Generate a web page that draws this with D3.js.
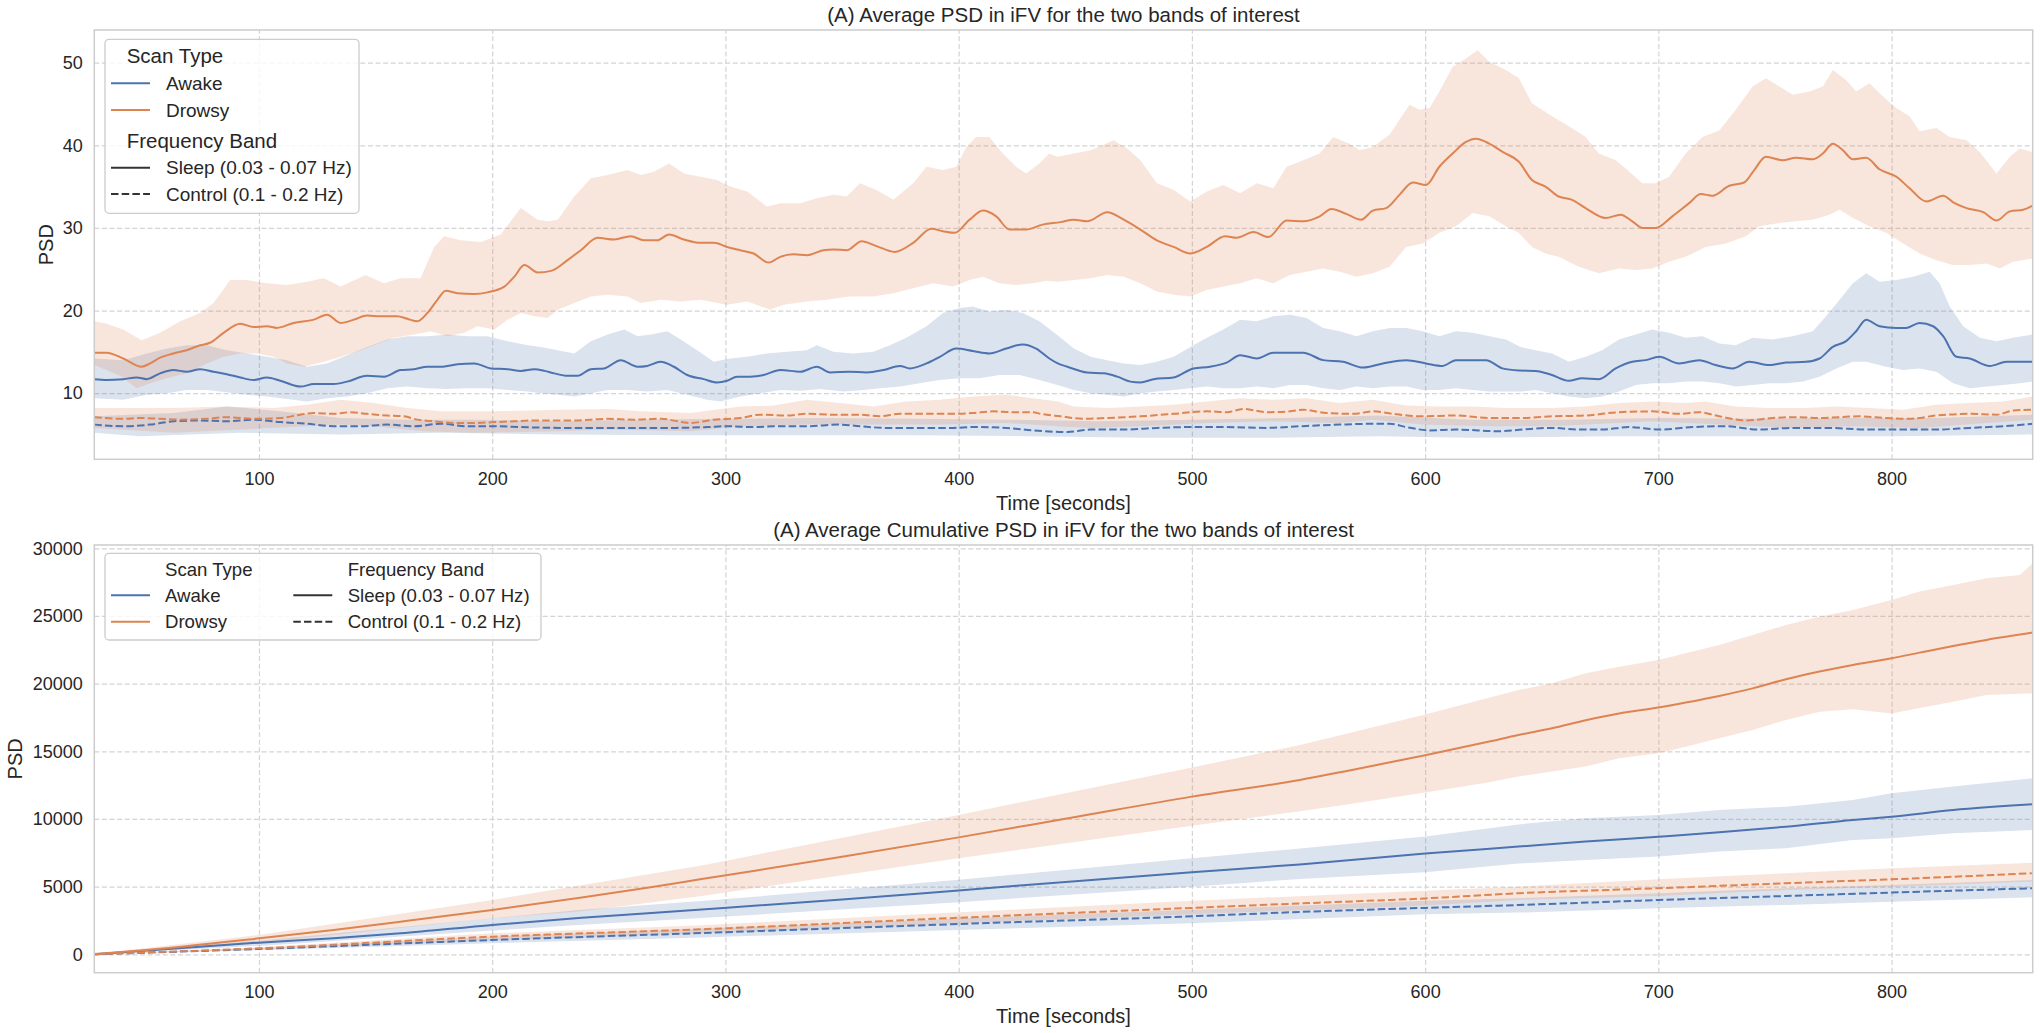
<!DOCTYPE html>
<html><head><meta charset="utf-8">
<script src="https://cdn.jsdelivr.net/npm/d3@7"></script>
<style>
html,body{margin:0;padding:0;background:#fff;}
text{font-family:"Liberation Sans",Arial,Helvetica,sans-serif;fill:#262626;}
</style></head>
<body><svg id="chart" width="2040" height="1033"></svg>
<script>
// ---------------- DATA ----------------
const xTicks = [100,200,300,400,500,600,700,800];
const topYTicks = [10,20,30,40,50];
const botYTicks = [0,5000,10000,15000,20000,25000,30000];
const scanTypes = ["Awake","Drowsy"];
const bands = ["Sleep (0.03 - 0.07 Hz)","Control (0.1 - 0.2 Hz)"];
const titleTop = "(A) Average PSD in iFV for the two bands of interest";
const titleBot = "(A) Average Cumulative PSD in iFV for the two bands of interest";

// Top panel: [time, PSD]
const drowsySleepMean = [[29.4,14.9],[34.7,14.9],[41.8,14.2],[49.7,13.2],[53.3,13.6],[57.6,14.3],[63.3,14.8],[69,15.2],[74.8,15.8],[79,16.1],[84.8,17.3],[92,18.4],[97.7,18.0],[103.4,18.1],[107.7,17.9],[114.9,18.5],[123.5,18.9],[129.2,19.5],[135,18.5],[140.7,18.9],[146.4,19.4],[152.1,19.3],[159.3,19.3],[163.6,19.0],[167.9,18.7],[172.2,19.7],[176.5,21.3],[180.1,22.4],[185.1,22.1],[192.3,22.0],[198,22.2],[205.2,22.9],[209.5,24.1],[213.8,25.5],[219.5,24.6],[225.2,24.8],[232.3,26.1],[238,27.3],[245.2,28.8],[252.3,28.6],[259.4,29.0],[265.1,28.5],[270.8,28.5],[275.8,29.2],[282.2,28.6],[289.3,28.2],[295,28.2],[300.7,27.7],[306.4,27.3],[312.1,26.9],[318.5,25.8],[323.5,26.5],[329.2,26.8],[334.9,26.7],[342,27.3],[346.3,27.4],[352,27.3],[358.4,28.4],[364.8,27.8],[372.6,27.1],[380.5,28.2],[388.3,29.9],[393.3,29.6],[398.3,29.4],[404.7,31.0],[410.4,32.1],[416.1,31.4],[421.8,29.8],[428.9,29.8],[436,30.4],[443.7,30.7],[449.4,31.0],[455.1,30.8],[463.7,31.9],[470.8,31.0],[477.9,29.8],[485,28.5],[492.2,27.7],[499.3,26.9],[506.4,27.7],[514.2,29.0],[519.2,28.8],[526.4,29.5],[532.8,28.9],[540.6,30.9],[547.7,30.8],[554.8,31.4],[559.8,32.3],[566.2,31.7],[572.6,31.0],[577.6,32.1],[583.3,32.4],[589,34.0],[594.7,35.5],[600.4,35.2],[606.1,37.4],[611.8,39.0],[617.5,40.4],[621.8,40.8],[627.5,40.2],[633.2,39.2],[640.2,38.0],[645.8,35.8],[651.6,35.0],[657.3,33.8],[663,33.4],[668.8,32.4],[677.4,31.2],[683.8,31.6],[688.8,30.8],[693.1,30.0],[698.9,30.0],[706,31.4],[713.2,33.0],[718.2,34.1],[723.2,33.9],[730.4,35.1],[736.8,35.5],[741.1,37.0],[746.1,38.6],[753.3,38.2],[759,38.5],[766.2,38.3],[770.5,39.0],[774.8,40.2],[779.1,39.4],[783.4,38.3],[789.1,38.5],[794.8,37.1],[802,36.2],[807.7,34.8],[814.9,33.2],[822.1,33.9],[826.4,33.1],[832.1,32.4],[839.3,31.9],[845,30.9],[850.7,32.0],[856.4,32.2],[860.5,32.7]];
const drowsySleepHi = [[29.4,18.7],[34.7,18.4],[41.8,17.7],[49.7,16.4],[57.6,17.3],[66.2,18.7],[74.8,19.7],[80.5,20.9],[87.7,23.7],[94.8,23.7],[103.4,23.3],[112,23.1],[120.6,23.5],[127.8,23.9],[135,22.9],[145.7,24.3],[153.6,23.3],[160.7,23.9],[169.3,23.9],[175.1,27.7],[179.4,29.0],[186.6,28.5],[195.1,28.3],[203.7,29.2],[209.5,31.4],[212.3,32.4],[219.5,31.0],[224,30.8],[228.1,31.0],[235.2,33.8],[242.3,36.0],[249.5,36.4],[258,37.0],[263.7,36.4],[269.4,36.8],[275.8,37.8],[282.2,36.6],[289.3,36.2],[296.4,35.8],[302.1,35.0],[309.3,34.4],[317.8,32.6],[323.5,33.0],[332.1,33.0],[339.2,33.6],[346.3,34.0],[352,33.8],[357.7,35.4],[364.8,34.6],[372,33.4],[380.5,35.4],[386.2,37.4],[393.3,37.0],[399,37.4],[403.3,39.8],[407.5,41.0],[413.2,41.0],[418.9,39.0],[424.6,37.4],[428.9,36.6],[434.6,37.8],[438.9,39.0],[442.3,38.6],[449.4,39.0],[456.6,39.4],[466.5,40.6],[472.2,39.6],[477.9,38.2],[485,35.4],[492.2,34.6],[499.3,33.2],[506.4,34.4],[513.5,35.2],[520.7,34.2],[527.8,35.4],[534.9,34.8],[540.6,37.4],[547.7,38.2],[554.8,39.0],[560.5,41.0],[567.7,40.2],[571.9,39.4],[577.6,39.8],[584.8,41.3],[589,43.1],[593.3,44.9],[597.6,44.3],[601.9,44.5],[606.1,46.5],[611.8,49.5],[617.5,50.5],[622.5,51.5],[627.5,50.1],[634.6,49.1],[640.2,48.1],[645.8,45.1],[654.4,43.5],[661.6,42.3],[668.8,41.0],[674.5,39.0],[681.7,38.2],[686,37.2],[693.1,35.4],[698.9,35.4],[704.6,36.2],[711.7,39.0],[718.9,41.0],[726.1,41.8],[733.2,44.3],[740.4,47.1],[746.1,48.1],[751.9,47.1],[757.6,46.1],[764.8,46.5],[770.5,47.1],[774.8,49.1],[780.5,47.9],[784.8,46.5],[790.5,47.5],[796.3,45.9],[802,44.5],[807.7,43.5],[812,41.7],[819.2,42.1],[824.9,41.0],[832.1,40.6],[837.8,39.2],[845,36.6],[850.7,38.6],[855,39.6],[860.5,39.2]];
const drowsySleepLo = [[29.4,13.4],[34.7,12.8],[41.3,12.0],[47.5,10.6],[53.3,11.2],[60.5,11.8],[69,12.4],[77.7,13.6],[84.8,14.4],[92,14.8],[99.1,14.8],[106.3,14.4],[112,13.6],[119.2,13.2],[127.8,13.8],[135,14.4],[142.1,15.0],[149.3,15.8],[157.9,16.7],[166.5,17.1],[173.6,17.5],[180.8,16.9],[188,17.3],[193.7,18.1],[200.9,17.7],[206.6,18.9],[212.3,19.7],[218.1,19.3],[223.8,19.1],[228.1,20.1],[235.2,20.9],[242.3,21.7],[249.5,21.9],[258,21.7],[263.7,20.9],[272.2,21.3],[280.8,21.1],[289.3,21.3],[300.7,20.7],[309.3,21.1],[319.2,20.1],[324.9,20.7],[334.9,21.1],[343.4,21.3],[353.4,21.7],[363.4,21.7],[372,22.1],[380.5,22.7],[389,23.3],[397.6,22.9],[404.7,23.7],[410.4,24.1],[417.5,23.3],[424.6,23.1],[431.8,23.3],[437.5,23.6],[442.4,23.5],[449.4,23.7],[456.6,23.9],[463.7,24.3],[470.8,24.1],[477.9,23.3],[485,22.3],[492.2,21.9],[499.3,21.7],[506.4,22.5],[513.5,22.9],[520.7,23.3],[527.8,23.9],[534.9,23.3],[542,24.3],[549.1,24.7],[556.3,25.1],[563.4,24.7],[570.5,24.1],[577.6,24.5],[584.8,25.3],[591.9,27.7],[599,28.1],[606.1,29.4],[613.2,30.2],[620.4,31.8],[627.5,31.4],[634.6,30.2],[640.1,29.4],[645.8,27.7],[651.6,26.9],[657.3,26.5],[665.9,25.3],[674.5,24.5],[683.1,25.1],[690.3,24.9],[697.4,25.1],[704.6,25.9],[711.7,26.5],[720.3,27.7],[728.9,28.1],[737.5,29.0],[743.3,30.2],[751.9,30.6],[759,30.8],[766.2,31.0],[773.4,31.6],[777.7,32.2],[783.4,31.2],[790.5,30.2],[797.7,29.4],[804.9,28.1],[812,26.9],[819.2,26.1],[826.4,25.5],[833.5,25.5],[840.7,25.7],[846.4,25.1],[852.1,25.9],[860.5,26.3]];

const awakeSleepMean = [[29.4,11.7],[34.7,11.6],[41.8,11.7],[47.6,11.9],[51.9,11.7],[57.6,12.4],[63.3,12.8],[69,12.6],[74.8,12.9],[80.5,12.6],[86.2,12.3],[92,11.9],[97.7,11.6],[103.4,11.9],[109.2,11.5],[117.8,10.8],[123.5,11.1],[132.1,11.1],[137.8,11.4],[146.4,12.1],[153.6,12.0],[160.7,12.8],[166.5,12.9],[172.2,13.2],[177.9,13.2],[185.1,13.5],[192.3,13.6],[199.4,13.0],[206.6,12.9],[212.3,12.7],[218.1,12.9],[222.5,12.7],[226.6,12.4],[232.3,12.1],[236.6,12.1],[242.3,12.9],[248,13.0],[255.1,14.0],[262.3,13.2],[266.5,13.3],[272.2,13.8],[277.9,13.2],[283.6,12.2],[290.7,11.7],[296.4,11.3],[300.7,11.5],[305,12.0],[310.7,12.0],[316.4,12.2],[323.5,12.8],[332.1,12.6],[339.2,13.2],[344.9,12.5],[353.4,12.6],[360.5,12.5],[367.7,12.8],[374.8,13.3],[379.1,13.0],[386.2,13.6],[391.9,14.4],[399,15.4],[406.1,15.1],[413.2,14.8],[420.4,15.4],[427.5,15.9],[433.2,15.4],[438.9,14.2],[442.5,13.6],[446.6,13.2],[455.1,12.5],[462.3,12.4],[468,12.0],[473.7,11.4],[477.9,11.3],[483.6,11.7],[492.2,11.9],[500.7,13.0],[507.8,13.2],[514.9,13.7],[520.7,14.6],[527.8,14.2],[534.9,14.9],[542,14.9],[547.7,14.9],[556.3,14.0],[564.8,13.8],[573.4,13.1],[581.9,13.6],[591.9,14.0],[600.4,13.6],[607.5,13.3],[613.2,14.0],[620.4,14.0],[626.1,14.0],[633.2,13.0],[640.2,12.75],[647.3,12.7],[654.4,12.2],[661.6,11.5],[667.3,11.8],[674.5,11.7],[681.7,13.0],[688.8,13.8],[694.6,14.0],[700.3,14.4],[708.9,13.6],[717.5,14.0],[724.6,13.4],[731.8,13.0],[739,13.8],[747.6,13.4],[754.7,13.7],[763.3,13.8],[769.1,14.2],[774.8,15.6],[780.5,16.3],[784.8,17.5],[789.1,18.9],[794.8,18.1],[802,17.9],[806.3,17.9],[812,18.5],[817.8,18.1],[822.1,16.9],[827.8,14.4],[833.5,14.2],[842.1,13.3],[849.3,13.8],[860.5,13.8]];
const awakeSleepHi = [[29.4,14.2],[41.8,14.0],[51.9,14.8],[60.5,15.4],[69,15.8],[77.7,15.8],[86.2,15.2],[94.8,14.8],[103.4,14.4],[112,14.0],[120.6,13.2],[129.2,13.6],[137.8,14.6],[146.4,15.6],[155,16.5],[163.6,16.9],[172.2,16.9],[180.8,17.1],[189.4,16.9],[198,16.9],[206.6,16.3],[215.2,15.8],[221,15.6],[228.1,15.2],[235.2,14.8],[242.3,16.3],[249.5,17.1],[256.6,17.7],[262.3,16.9],[268,17.1],[275.1,17.5],[280.8,16.5],[287.9,15.2],[295,13.8],[302.1,14.2],[309.3,14.4],[317.8,14.8],[326.4,15.0],[334.9,15.2],[339.2,15.8],[346.3,15.0],[354.8,14.8],[363.4,15.0],[370.5,15.8],[377.6,16.7],[386.2,18.1],[393.3,19.7],[400.4,20.3],[406.1,20.5],[413.2,19.9],[420.4,20.1],[427.5,19.7],[434.6,18.7],[442.4,17.0],[449.4,15.4],[456.6,14.4],[463.7,14.0],[470.8,13.6],[477.9,13.4],[485,13.8],[492.2,14.4],[499.3,15.6],[506.4,16.7],[513.5,17.7],[520.7,18.9],[527.8,18.7],[534.9,19.3],[542,19.5],[549.1,19.1],[556.3,17.9],[563.4,17.5],[570.5,16.9],[577.6,17.5],[584.8,17.9],[591.9,17.9],[599,17.5],[606.1,16.9],[613.2,17.5],[620.4,17.3],[627.5,16.9],[634.6,16.5],[640.9,15.6],[647.3,15.2],[654.4,14.8],[661.6,13.8],[668.8,14.4],[675.9,15.2],[683.1,16.5],[690.3,17.1],[697.4,17.7],[704.6,17.3],[711.7,16.7],[718.9,16.9],[726.1,16.0],[733.2,15.8],[740.4,16.7],[749,16.5],[757.6,16.9],[766.2,17.5],[771.9,19.3],[777.7,21.3],[783.4,23.3],[789.1,24.5],[794.8,23.5],[802,23.7],[809.2,24.1],[816.3,24.7],[820.6,23.3],[824.9,20.5],[830.7,18.1],[837.8,16.7],[845,16.3],[852.1,16.7],[860.5,17.1]];
const awakeSleepLo = [[29.4,9.4],[41.8,9.2],[51.9,9.8],[60.5,10.0],[69,10.4],[77.7,10.4],[86.2,10.1],[94.8,9.8],[103.4,9.6],[112,9.3],[120.6,9.0],[129.2,9.4],[137.8,9.6],[146.4,10.0],[155,10.6],[163.6,10.8],[172.2,10.6],[180.8,10.5],[189.4,10.6],[198,10.6],[206.6,10.4],[215.2,10.2],[221,10.0],[228.1,9.8],[235.2,9.6],[242.3,10.0],[249.5,10.4],[258,10.4],[266.5,10.2],[275.1,10.4],[283.6,9.8],[292.2,9.2],[297.9,9.0],[306.4,9.6],[315,10.0],[323.5,10.4],[332.1,10.3],[340.6,10.5],[350.6,10.2],[359.1,10.4],[366.2,10.6],[374.8,10.8],[383.3,11.2],[391.9,11.6],[400.4,11.8],[408.9,11.8],[417.5,12.2],[426.1,12.2],[434.6,11.6],[442.4,11.0],[449.4,10.4],[456.6,10.0],[463.7,9.8],[470.8,9.6],[477.9,10.0],[485,10.2],[492.2,10.4],[499.3,10.6],[506.4,10.8],[513.5,10.6],[520.7,10.6],[527.8,10.8],[534.9,10.6],[542,11.0],[549.1,11.0],[556.3,10.6],[563.4,10.4],[570.5,10.8],[577.6,10.6],[584.8,10.8],[591.9,10.8],[599,10.4],[606.1,10.4],[613.2,10.6],[620.4,10.4],[627.5,10.2],[634.6,10.2],[641.7,10.2],[647.3,10.4],[654.4,10.0],[661.6,9.6],[668.8,9.4],[675.9,9.6],[683.1,10.2],[690.3,11.0],[697.4,11.2],[704.6,11.2],[711.7,11.4],[718.9,11.4],[726.1,11.2],[733.2,10.8],[740.4,11.0],[747.6,11.2],[754.7,11.2],[762,11.4],[769.1,12.0],[776.3,13.0],[783.4,13.8],[789.1,13.8],[797.7,13.2],[804.9,12.8],[812,13.0],[819.2,12.6],[826.4,11.2],[833.5,10.6],[840.7,10.8],[847.9,11.0],[855,11.2],[860.5,11.4]];

const drowsyCtrlMean = [[29.4,7.1],[41.8,6.9],[49,7.0],[57.6,6.9],[66.2,6.8],[77.7,6.9],[86.2,7.1],[97.7,6.9],[109.2,7.0],[117.8,7.4],[123.5,7.6],[132.1,7.5],[139.3,7.7],[146.4,7.5],[155,7.3],[162.2,7.2],[167.9,6.8],[175.1,6.6],[183.7,6.4],[192.3,6.4],[200.9,6.5],[209.5,6.6],[218.1,6.7],[228.8,6.7],[235.2,6.7],[249.5,6.9],[260.8,6.8],[272.2,6.9],[285,6.4],[295,6.8],[306.4,7.0],[315,7.4],[326.4,7.3],[334.9,7.5],[346.3,7.4],[357.7,7.4],[366.2,7.2],[374.8,7.5],[386.2,7.5],[397.6,7.5],[406.1,7.6],[414.7,7.8],[423.2,7.7],[431.8,7.7],[435.2,7.5],[443.7,7.2],[453.7,6.9],[463.7,7.0],[477.9,7.2],[492.2,7.5],[506.4,7.8],[515,7.7],[522.1,8.1],[532,7.7],[542,7.8],[547.7,8.0],[557.7,7.6],[569.1,7.5],[577.6,7.8],[586.2,7.5],[599,7.2],[613.2,7.3],[627.5,7.0],[641.7,7.0],[654.4,7.2],[668.8,7.3],[683.1,7.7],[697.4,7.8],[708.9,7.5],[717.5,7.7],[726.1,7.2],[737.5,6.7],[749,7.0],[757.6,7.1],[769.1,7.0],[786.2,7.2],[797.7,7.0],[807.7,6.9],[819.2,7.3],[833.5,7.5],[845,7.4],[852.1,7.9],[860.5,8.0]];
const drowsyCtrlHi = [[29.4,8.2],[63.3,8.2],[86.2,8.4],[106.3,8.2],[120.6,8.6],[135,9.2],[149.3,8.8],[163.6,8.2],[177.9,7.8],[199.4,7.8],[228.8,8.0],[249.5,8.1],[263.7,7.8],[285,7.6],[306.4,8.4],[320.7,8.5],[334.9,9.2],[349.1,8.8],[363.4,8.4],[377.6,9.0],[391.9,9.2],[406.1,9.6],[420.4,9.8],[442.5,9.0],[449.4,8.4],[463.7,8.2],[477.9,8.4],[492.2,8.6],[506.4,9.0],[520.7,9.4],[534.9,9.2],[549.1,9.4],[563.4,8.8],[577.6,9.2],[591.9,8.5],[606.1,8.4],[620.4,8.4],[634.6,8.2],[654.4,8.2],[668.8,8.4],[683.1,8.8],[697.4,9.0],[711.7,8.8],[720.3,9.0],[733.2,8.4],[747.6,8.2],[762,8.2],[776.3,8.4],[790.5,8.2],[804.9,8.0],[819.2,8.6],[833.5,8.8],[847.9,9.0],[860.5,9.6]];
const drowsyCtrlLo = [[29.4,5.8],[63.3,5.2],[92,5.6],[120.6,6.0],[135,6.2],[149.3,6.0],[170.7,5.4],[192.3,5.2],[228.8,5.4],[249.5,5.6],[285,5.4],[306.4,6.0],[334.9,6.2],[363.4,6.2],[391.9,6.2],[420.4,6.4],[442.5,6.0],[456.6,5.8],[477.9,6.0],[506.4,6.4],[534.9,6.6],[563.4,6.4],[577.6,6.8],[599,6.2],[627.5,6.0],[654.4,6.0],[668.8,6.2],[697.4,6.6],[726.1,6.2],[754.7,5.8],[783.4,6.0],[812,5.8],[840.7,6.4],[860.5,6.8]];

const awakeCtrlMean = [[29.4,6.2],[41.8,6.0],[53.3,6.2],[63.3,6.6],[74.8,6.7],[86.2,6.6],[97.7,6.8],[109.2,6.5],[120.6,6.3],[132.1,6.0],[143.6,6.0],[155,6.2],[166.5,6.0],[177.9,6.3],[189.4,6.0],[200.9,6.0],[212.3,5.9],[228.8,5.8],[249.5,5.8],[263.7,5.8],[277.9,5.8],[292.2,5.9],[300.7,6.0],[312.1,5.9],[320.7,6.0],[334.9,6.0],[349.1,6.2],[357.7,6.0],[369.1,5.8],[383.3,5.8],[397.6,5.8],[406.1,5.9],[420.4,5.8],[431.8,5.5],[446.6,5.3],[456.6,5.6],[470.8,5.6],[485,5.8],[499.3,5.9],[513.5,5.9],[532,5.8],[546.3,6.0],[563.4,6.2],[577.6,6.3],[584.8,6.3],[591.9,5.9],[601.9,5.5],[613.2,5.6],[631.7,5.4],[641.7,5.6],[654.4,5.8],[665.9,5.6],[675.9,5.6],[687.4,5.9],[700.3,5.6],[714.6,5.9],[728.9,6.0],[743.3,5.6],[757.6,5.8],[771.9,5.8],[790.5,5.6],[804.9,5.6],[819.2,5.6],[833.5,5.8],[847.9,6.0],[860.5,6.3]];
const awakeCtrlHi = [[29.4,7.2],[63.3,7.6],[86.2,8.4],[109.2,7.8],[135,7.0],[163.6,6.8],[192.3,6.8],[228.8,6.6],[260,6.8],[300,6.9],[340,7.0],[380,6.9],[420,6.8],[460,6.6],[500,6.8],[540,7.0],[580,7.3],[620,6.8],[660,6.8],[700,7.0],[740,6.9],[780,7.0],[820,7.0],[860.5,7.4]];
const awakeCtrlLo = [[29.4,5.2],[49,4.8],[92,5.2],[135,5.0],[177.9,5.2],[228.8,5.0],[280,4.9],[330,4.9],[380,4.9],[430,4.8],[480,4.6],[530,4.6],[580,4.8],[620,4.6],[680,4.8],[740,4.8],[800,4.8],[860.5,5.0]];

// Bottom panel (cumulative): [time, PSD]
const cumDrowsySleepMean = [[29.5,15],[65.6,540],[100,1180],[132,1800],[160.7,2410],[200,3275],[238.4,4190],[267.2,4940],[289.8,5560],[350,7200],[400,8640],[450,10150],[500,11650],[546.3,12880],[566.5,13550],[600,14710],[627,15700],[640,16200],[654.4,16700],[668.8,17300],[683.1,17800],[700,18230],[711.7,18600],[726.1,19090],[740.4,19650],[754.7,20320],[769.1,20890],[783.4,21380],[800,21870],[812,22290],[826.4,22780],[840.7,23230],[860.5,23770]];
const cumDrowsySleepHi = [[29.5,20],[100,1430],[200,4015],[289.8,6570],[400,10300],[500,13800],[546.3,15460],[600,17720],[640,19530],[654.4,20020],[668.8,20760],[683.1,21250],[700,21750],[711.7,22240],[726.1,22860],[740.4,23600],[754.7,24330],[769.1,24950],[783.4,25440],[800,26180],[812,26800],[826.4,27290],[840.7,27780],[855,28030],[860.5,28890]];
const cumDrowsySleepLo = [[29.5,10],[100,860],[200,2660],[238.4,3180],[289.8,4310],[400,7100],[500,9500],[546.3,10570],[566.5,11070],[600,11950],[627,12700],[640,13130],[654.4,13500],[668.8,13870],[683.1,14480],[700,14850],[711.7,15340],[726.1,15960],[740.4,16580],[754.7,17310],[769.1,17930],[783.4,18100],[800,17800],[812,18200],[826.4,18670],[840.7,19160],[860.5,19290]];
const cumAwakeSleepMean = [[29.5,12],[100,860],[132,1180],[160.7,1550],[200,2170],[238.4,2700],[289.8,3310],[350,4050],[400,4720],[450,5400],[500,6070],[546.3,6640],[600,7440],[640,7960],[668.8,8330],[700,8690],[726.1,9010],[754.7,9430],[783.4,9930],[800,10170],[826.4,10660],[860.5,11080]];
const cumAwakeSleepHi = [[29.5,14],[100,1010],[200,2660],[238.4,3300],[289.8,3930],[400,5500],[500,7100],[546.3,7820],[600,8700],[640,9600],[668.8,10050],[700,10300],[726.1,10660],[754.7,10910],[783.4,11400],[800,11900],[826.4,12390],[860.5,13000]];
const cumAwakeSleepLo = [[29.5,10],[100,616],[200,1750],[238.4,2180],[289.8,2680],[400,3850],[500,5000],[546.3,5570],[600,6060],[640,6700],[668.8,6970],[700,7220],[726.1,7590],[754.7,7830],[783.4,8450],[800,8570],[826.4,8940],[860.5,9190]];
const cumDrowsyCtrlMean = [[29.5,7],[100,443],[200,1305],[289.8,1850],[400,2700],[500,3430],[546.3,3760],[600,4130],[640,4510],[700,4880],[754.7,5250],[800,5540],[860.5,5990]];
const cumDrowsyCtrlHi = [[29.5,9],[100,520],[200,1550],[290,2150],[400,3100],[500,3950],[600,4700],[640,5000],[700,5540],[754.7,5990],[800,6350],[860.5,6770]];
const cumDrowsyCtrlLo = [[29.5,5],[100,370],[200,1010],[290,1550],[400,2300],[500,2950],[600,3600],[640,4010],[700,4310],[754.7,4750],[800,5000],[860.5,5370]];
const cumAwakeCtrlMean = [[29.5,6],[100,394],[200,1059],[289.8,1570],[400,2240],[500,2810],[546.3,3130],[600,3430],[640,3640],[700,4010],[754.7,4310],[800,4560],[860.5,4880]];
const cumAwakeCtrlHi = [[29.5,7],[100,470],[200,1305],[290,1900],[400,2650],[500,3300],[600,3950],[640,4140],[700,4510],[754.7,4880],[800,5120],[860.5,5490]];
const cumAwakeCtrlLo = [[29.5,5],[100,300],[200,813],[290,1250],[400,1800],[500,2300],[600,2950],[640,3080],[700,3400],[754.7,3650],[800,3890],[860.5,4210]];

// --------------- RENDER ---------------
const colors = {Awake:"#4c72b0", Drowsy:"#dd8452"};
const svg = d3.select("#chart");
const X0 = 94.3, X1 = 2032.7;
const x = d3.scaleLinear().domain([29.4, 860.5]).range([X0, X1]);
const yTop = d3.scaleLinear().domain([2.0, 53.95]).range([459.3, 30]);
const yBot = d3.scaleLinear().domain([-1360, 30244]).range([972.7, 545]);

function panel(y, yTicks, series, clipId, title, titleY, xlabY){
  const [yb, yt] = y.range();
  const g = svg.append("g");
  g.append("clipPath").attr("id", clipId).append("rect")
    .attr("x", X0).attr("y", yt).attr("width", X1-X0).attr("height", yb-yt);
  // grid
  const gridStyle = s => s.attr("stroke","#d4d4d4").attr("stroke-width",1.2).attr("stroke-dasharray","5,2.6");
  g.append("g").attr("transform",`translate(0,${yb})`)
    .call(d3.axisBottom(x).tickValues(xTicks).tickSize(-(yb-yt)).tickFormat(""))
    .call(a=>a.select(".domain").remove())
    .call(a=>gridStyle(a.selectAll("line")));
  g.append("g").attr("transform",`translate(${X0},0)`)
    .call(d3.axisLeft(y).tickValues(yTicks).tickSize(-(X1-X0)).tickFormat(""))
    .call(a=>a.select(".domain").remove())
    .call(a=>gridStyle(a.selectAll("line")));
  // bands
  const lineGen = d3.line().x(d=>x(d[0])).y(d=>y(d[1]));
  const data = g.append("g").attr("clip-path",`url(#${clipId})`);
  series.forEach(s=>{
    const poly = s.hi.concat(s.lo.slice().reverse());
    data.append("path").attr("d", lineGen(poly)+"Z")
      .attr("fill", colors[s.type]).attr("fill-opacity",0.2).attr("stroke","none");
  });
  const smooth = d3.line().x(d=>x(d[0])).y(d=>y(d[1])).curve(d3.curveMonotoneX);
  series.forEach(s=>{
    data.append("path").attr("d", smooth(s.mean)).attr("fill","none")
      .attr("stroke", colors[s.type]).attr("stroke-width",2)
      .attr("stroke-dasharray", s.band===bands[1] ? "7.5,3.2" : null);
  });
  // frame
  g.append("rect").attr("x",X0).attr("y",yt).attr("width",X1-X0).attr("height",yb-yt)
    .attr("fill","none").attr("stroke","#cccccc").attr("stroke-width",1.5);
  // tick labels
  const ax = g.append("g").attr("transform",`translate(0,${yb})`)
    .call(d3.axisBottom(x).tickValues(xTicks).tickSize(0).tickPadding(13).tickFormat(d3.format("d")));
  ax.select(".domain").remove();
  ax.selectAll("text").attr("font-size",18).attr("fill","#262626").attr("font-family","Liberation Sans, Arial, sans-serif");
  const ay = g.append("g").attr("transform",`translate(${X0},0)`)
    .call(d3.axisLeft(y).tickValues(yTicks).tickSize(0).tickPadding(11.5).tickFormat(d3.format("d")));
  ay.select(".domain").remove();
  ay.selectAll("text").attr("font-size",18).attr("fill","#262626").attr("font-family","Liberation Sans, Arial, sans-serif");
  // title & labels
  g.append("text").attr("x",(X0+X1)/2).attr("y",titleY).attr("text-anchor","middle")
    .attr("font-size",20.5).text(title);
  g.append("text").attr("x",(X0+X1)/2).attr("y",xlabY).attr("text-anchor","middle")
    .attr("font-size",20).text("Time [seconds]");
  return g;
}

const topSeries = [
  {type:"Awake", band:bands[0], mean:awakeSleepMean, hi:awakeSleepHi, lo:awakeSleepLo},
  {type:"Awake", band:bands[1], mean:awakeCtrlMean, hi:awakeCtrlHi, lo:awakeCtrlLo},
  {type:"Drowsy", band:bands[0], mean:drowsySleepMean, hi:drowsySleepHi, lo:drowsySleepLo},
  {type:"Drowsy", band:bands[1], mean:drowsyCtrlMean, hi:drowsyCtrlHi, lo:drowsyCtrlLo}
];
const botSeries = [
  {type:"Awake", band:bands[0], mean:cumAwakeSleepMean, hi:cumAwakeSleepHi, lo:cumAwakeSleepLo},
  {type:"Awake", band:bands[1], mean:cumAwakeCtrlMean, hi:cumAwakeCtrlHi, lo:cumAwakeCtrlLo},
  {type:"Drowsy", band:bands[0], mean:cumDrowsySleepMean, hi:cumDrowsySleepHi, lo:cumDrowsySleepLo},
  {type:"Drowsy", band:bands[1], mean:cumDrowsyCtrlMean, hi:cumDrowsyCtrlHi, lo:cumDrowsyCtrlLo}
];

panel(yTop, topYTicks, topSeries, "clipTop", titleTop, 22, 510);
panel(yBot, botYTicks, botSeries, "clipBot", titleBot, 537, 1023);

// y labels
svg.append("text").attr("transform","translate(46,244.7) rotate(-90)").attr("text-anchor","middle")
  .attr("dominant-baseline","central").attr("font-size",20).text("PSD");
svg.append("text").attr("transform","translate(15,758.9) rotate(-90)").attr("text-anchor","middle")
  .attr("dominant-baseline","central").attr("font-size",20).text("PSD");

// legends
function handle(g, x1, x2, yy, color, dashed){
  g.append("line").attr("x1",x1).attr("x2",x2).attr("y1",yy).attr("y2",yy)
    .attr("stroke",color).attr("stroke-width",2).attr("stroke-dasharray", dashed?"7.5,3.2":null);
}
function label(g, xx, yy, txt, size){
  g.append("text").attr("x",xx).attr("y",yy).attr("dominant-baseline","central")
    .attr("font-size",size).text(txt);
}
// top legend
{
  const g = svg.append("g");
  g.append("rect").attr("x",105).attr("y",39.3).attr("width",254).attr("height",174).attr("rx",4)
    .attr("fill","#fff").attr("fill-opacity",0.8).attr("stroke","#cccccc").attr("stroke-width",1.3);
  label(g,126.7,55.3,"Scan Type",20.5);
  handle(g,111,150,83.3,colors.Awake,false); label(g,166,83.5,scanTypes[0],19);
  handle(g,111,150,110,colors.Drowsy,false); label(g,166,110.5,scanTypes[1],19);
  label(g,126.7,140,"Frequency Band",20.5);
  handle(g,111,150,167.7,"#333333",false); label(g,166,167.7,bands[0],19);
  handle(g,111,150,194,"#333333",true); label(g,166,194,bands[1],19);
}
// bottom legend
{
  const g = svg.append("g");
  g.append("rect").attr("x",105).attr("y",553.3).attr("width",436).attr("height",86.7).attr("rx",4)
    .attr("fill","#fff").attr("fill-opacity",0.8).attr("stroke","#cccccc").attr("stroke-width",1.3);
  label(g,165,569.3,"Scan Type",18.6);
  handle(g,111,150,595.3,colors.Awake,false); label(g,165,595.3,scanTypes[0],18.6);
  handle(g,111,150,621.7,colors.Drowsy,false); label(g,165,621.7,scanTypes[1],18.6);
  label(g,347.7,569.3,"Frequency Band",18.6);
  handle(g,293.3,332.3,595.3,"#333333",false); label(g,347.7,595.3,bands[0],18.6);
  handle(g,293.3,332.3,621.7,"#333333",true); label(g,347.7,621.7,bands[1],18.6);
}
</script></body></html>
